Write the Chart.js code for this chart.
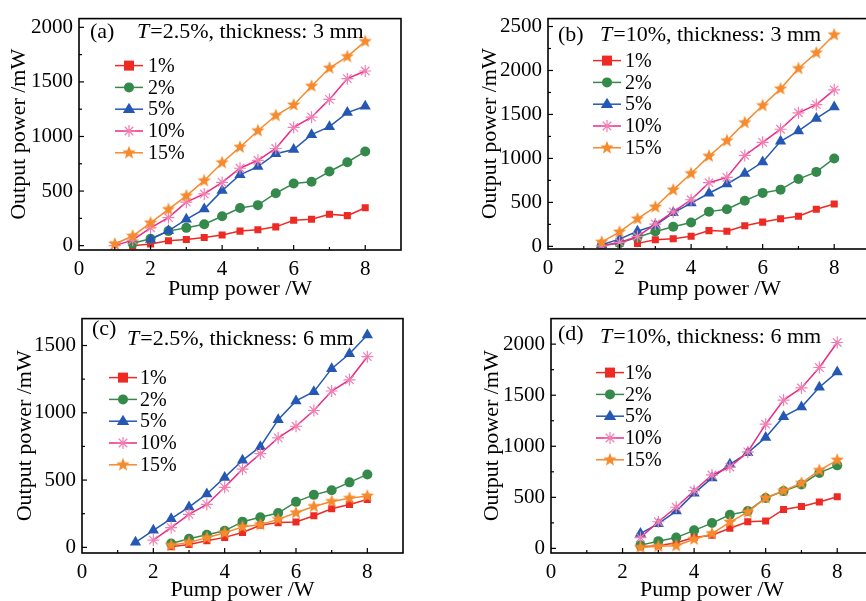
<!DOCTYPE html>
<html>
<head>
<meta charset="utf-8">
<script src="https://cdn.jsdelivr.net/npm/chart.js@4.4.0/dist/chart.umd.min.js"></script>
<style>
  html, body { margin: 0; padding: 0; background: #fff; overflow: hidden; width: 866px; height: 601px; }
  canvas { position: absolute; }
</style>
</head>
<body>
<canvas id="chA" width="410" height="300" style="left:0px;top:0px"></canvas>
<canvas id="chB" width="410" height="300" style="left:469px;top:0px"></canvas>
<canvas id="chC" width="410" height="301" style="left:3px;top:300px"></canvas>
<canvas id="chD" width="410" height="301" style="left:472px;top:300px"></canvas>
<script>
// pump power steps (W), shared by every panel
const pump = [1, 1.5, 2, 2.5, 3, 3.5, 4, 4.5, 5, 5.5, 6, 6.5, 7, 7.5, 8];
const seriesLabels = ['1%', '2%', '5%', '10%', '15%'];
const xTickVals = [0, 1, 2, 3, 4, 5, 6, 7, 8];

// (a) T=2.5%, 3 mm
const a1 = [null, 0, 15, 45, 57, 75, 97, 133, 145, 172, 232, 241, 287, 275, 347];
const a2 = [null, 21, 63, 133, 163, 196, 269, 344, 371, 480, 570, 585, 679, 764, 863];
const a5 = [null, null, 57, 136, 241, 335, 504, 649, 724, 842, 881, 1017, 1090, 1219, 1277];
const a10 = [0, 50, 163, 257, 398, 474, 579, 709, 782, 890, 1083, 1177, 1340, 1530, 1600];
const a15 = [15, 88, 208, 332, 456, 595, 760, 902, 1053, 1192, 1289, 1461, 1627, 1732, 1871];

// (b) T=10%, 3 mm
const b1 = [null, null, null, 34, 75, 86, 116, 179, 172, 235, 276, 313, 343, 422, 481];
const b2 = [null, 7, 37, 104, 168, 224, 272, 395, 422, 519, 608, 645, 765, 847, 1000];
const b5 = [null, 19, 82, 172, 239, 381, 492, 604, 709, 828, 959, 1194, 1313, 1455, 1586];
const b10 = [null, 7, 45, 112, 254, 392, 530, 724, 784, 1034, 1183, 1332, 1519, 1612, 1780];
const b15 = [null, 49, 164, 313, 448, 642, 828, 1026, 1201, 1407, 1601, 1791, 2022, 2201, 2406];

// (c) T=2.5%, 6 mm
const c1 = [null, null, null, 5, 22, 49, 74, 110, 164, 184, 189, 235, 287, 319, 355];
const c2 = [null, null, null, 29, 64, 93, 123, 191, 223, 255, 338, 390, 424, 483, 542];
const c5 = [null, 37, 127, 213, 299, 397, 520, 647, 748, 949, 1088, 1157, 1328, 1439, 1578];
const c10 = [null, null, 54, 147, 245, 319, 446, 581, 696, 814, 900, 1017, 1162, 1245, 1417];
const c15 = [null, null, null, 15, 37, 71, 108, 152, 169, 208, 257, 304, 341, 365, 382];

// (d) T=10%, 6 mm
const d1 = [null, null, null, 16, 26, 55, 106, 129, 197, 261, 268, 381, 410, 455, 506];
const d2 = [null, null, null, 32, 71, 106, 177, 248, 329, 365, 494, 561, 626, 739, 813];
const d5 = [null, null, null, 145, 242, 365, 539, 690, 823, 936, 1087, 1290, 1384, 1578, 1726];
const d10 = [null, null, null, 106, 261, 403, 565, 719, 797, 945, 1216, 1452, 1571, 1771, 2016];
const d15 = [null, null, null, 10, 20, 26, 90, 145, 258, 355, 494, 565, 639, 765, 865];

const FONT = '"Liberation Serif", "Times New Roman", serif';

function starCanvas(color, r) {
    const c = document.createElement('canvas');
    const s = Math.ceil(r * 2 + 2);
    c.width = c.height = s;
    const g = c.getContext('2d');
    g.beginPath();
    for (let i = 0; i < 10; i++) {
        const ang = -Math.PI / 2 + i * Math.PI / 5;
        const rr = i % 2 ? r * 0.42 : r;
        g.lineTo(s / 2 + rr * Math.cos(ang), s / 2 + rr * Math.sin(ang));
    }
    g.closePath();
    g.fillStyle = color;
    g.fill();
    return c;
}

const orangeStar = starCanvas('#f58b2e', 7);

// look of each series: line colour, marker colour, marker
const looks = [
    {line: '#ee2a24', mark: '#ee2a24', style: 'rect', r: 5},
    {line: '#35894b', mark: '#35894b', style: 'circle', r: 5},
    {line: '#2458b4', mark: '#2458b4', style: 'triangle', r: 6.5},
    {line: '#ec2a84', mark: '#f27fb2', style: 'star', r: 6},
    {line: '#f58b2e', mark: '#f58b2e', style: orangeStar, r: 7}
];

function toPoints(vals) {
    const out = [];
    vals.forEach((v, i) => { if (v !== null) out.push({x: pump[i], y: v}); });
    return out;
}

function drawMarker(ctx, look, x, y) {
    const r = look.r;
    ctx.save();
    ctx.fillStyle = look.mark;
    ctx.strokeStyle = look.mark;
    ctx.lineWidth = 1.2;
    if (look.style === 'rect') {
        ctx.fillRect(x - r, y - r, 2 * r, 2 * r);
    } else if (look.style === 'circle') {
        ctx.beginPath(); ctx.arc(x, y, r, 0, Math.PI * 2); ctx.fill();
    } else if (look.style === 'triangle') {
        ctx.beginPath();
        ctx.moveTo(x, y - r);
        ctx.lineTo(x + r * 0.95, y + r * 0.6);
        ctx.lineTo(x - r * 0.95, y + r * 0.6);
        ctx.closePath(); ctx.fill();
    } else if (look.style === 'star') {
        ctx.beginPath();
        for (let i = 0; i < 4; i++) {
            const ang = i * Math.PI / 4;
            ctx.moveTo(x - r * Math.cos(ang), y - r * Math.sin(ang));
            ctx.lineTo(x + r * Math.cos(ang), y + r * Math.sin(ang));
        }
        ctx.stroke();
    } else {
        ctx.drawImage(look.style, x - look.style.width / 2, y - look.style.height / 2);
    }
    ctx.restore();
}

// box, inward ticks, panel title and legend
const framePlugin = {
    id: 'frame',
    afterDatasetsDraw(chart, args, opts) {
        const {ctx, chartArea: ca} = chart;
        ctx.save();
        ctx.strokeStyle = '#000';
        ctx.lineWidth = 1.6;
        ctx.strokeRect(ca.left, ca.top, ca.right - ca.left, ca.bottom - ca.top);

        ctx.lineWidth = 1.2;
        const xs = chart.scales.x, ys = chart.scales.y;
        xs.ticks.forEach(t => {
            if (t.value <= xs.min || t.value >= xs.max) return;
            const px = xs.getPixelForValue(t.value);
            const len = t.value % 2 === 0 ? 5 : 3;
            ctx.beginPath(); ctx.moveTo(px, ca.bottom); ctx.lineTo(px, ca.bottom - len); ctx.stroke();
        });
        ys.ticks.forEach(t => {
            if (t.value <= ys.min || t.value >= ys.max) return;
            const py = ys.getPixelForValue(t.value);
            const len = t.value % 500 === 0 ? 5 : 3;
            ctx.beginPath(); ctx.moveTo(ca.left, py); ctx.lineTo(ca.left + len, py); ctx.stroke();
        });

        // panel heading
        ctx.fillStyle = '#000';
        ctx.textBaseline = 'middle';
        ctx.textAlign = 'left';
        ctx.font = '22px ' + FONT;
        ctx.fillText(opts.tag, ca.left + opts.tagAt[0], ca.top + opts.tagAt[1]);
        let tx = ca.left + opts.textAt[0];
        const ty = ca.top + opts.textAt[1];
        ctx.font = 'italic 22px ' + FONT;
        ctx.fillText('T', tx, ty);
        tx += ctx.measureText('T').width + 1;
        ctx.font = '22px ' + FONT;
        ctx.fillText(opts.text, tx, ty);

        // legend
        ctx.font = '20px ' + FONT;
        seriesLabels.forEach((lab, i) => {
            const look = looks[i];
            const ly = ca.top + opts.legAt[1] + i * 21.8;
            const lx = ca.left + opts.legAt[0];
            ctx.strokeStyle = look.line;
            ctx.lineWidth = 1.5;
            ctx.beginPath(); ctx.moveTo(lx, ly); ctx.lineTo(lx + 28, ly); ctx.stroke();
            drawMarker(ctx, look, lx + 14, ly);
            ctx.fillStyle = '#000';
            ctx.fillText(lab, lx + opts.legText, ly + 1);
        });
        ctx.restore();
    }
};

function makePanel(id, series, cfg) {
    const datasets = series.map((vals, i) => ({
        label: seriesLabels[i],
        data: toPoints(vals),
        borderColor: looks[i].line,
        backgroundColor: looks[i].mark,
        pointBorderColor: looks[i].mark,
        pointBackgroundColor: looks[i].mark,
        pointStyle: looks[i].style,
        pointRadius: looks[i].r,
        pointBorderWidth: i === 3 ? 1.2 : 0,
        borderWidth: 1.5,
        order: 5 - i
    }));
    new Chart(document.getElementById(id), {
        type: 'line',
        data: {datasets: datasets},
        plugins: [framePlugin],
        options: {
            responsive: false,
            animation: false,
            layout: {padding: {top: cfg.padTop, right: cfg.padRight, left: 0, bottom: 0}},
            plugins: {
                legend: {display: false},
                tooltip: {enabled: false},
                frame: cfg.frame
            },
            scales: {
                x: {
                    type: 'linear',
                    min: 0, max: 9,
                    grid: {display: false, drawTicks: false},
                    border: {display: false},
                    afterBuildTicks: s => { s.ticks = xTickVals.map(v => ({value: v})); },
                    ticks: {
                        autoSkip: false,
                        maxRotation: 0,
                        padding: 7,
                        color: '#000',
                        font: {family: FONT, size: 21},
                        callback: v => v % 2 === 0 ? String(v) : ''
                    },
                    title: {
                        display: true,
                        text: 'Pump power /W',
                        color: '#000',
                        font: {family: FONT, size: 22, lineHeight: 1},
                        padding: {top: 0, bottom: 0}
                    },
                    afterFit: s => { s.height = cfg.xH; }
                },
                y: {
                    min: cfg.yMin, max: cfg.yMax,
                    grid: {display: false, drawTicks: false},
                    border: {display: false},
                    afterBuildTicks: s => { s.ticks = cfg.yTicks.map(v => ({value: v})); },
                    ticks: {
                        autoSkip: false,
                        padding: 6,
                        color: '#000',
                        font: {family: FONT, size: 21},
                        callback: v => v % 500 === 0 ? String(v) : ''
                    },
                    title: {
                        display: true,
                        text: 'Output power /mW',
                        color: '#000',
                        font: {family: FONT, size: 22, lineHeight: 1},
                        padding: {top: cfg.yTitlePad, bottom: 0}
                    },
                    afterFit: s => { s.width = 79; }
                }
            }
        }
    });
}

const yTicks2000 = [0, 250, 500, 750, 1000, 1250, 1500, 1750, 2000];
const yTicks2500 = [0, 250, 500, 750, 1000, 1250, 1500, 1750, 2000, 2250, 2500];
const yTicks1500 = [0, 250, 500, 750, 1000, 1250, 1500];

makePanel('chA', [a1, a2, a5, a10, a15], {
    padTop: 14, padRight: 9, xH: 50, yMin: -40, yMax: 2080, yTitlePad: 8, yTicks: yTicks2000,
    frame: {tag: '(a)', text: '=2.5%, thickness: 3 mm', tagAt: [11, 14], textAt: [58, 14], legAt: [36, 47], legText: 33}
});
makePanel('chB', [b1, b2, b5, b10, b15], {
    padTop: 15, padRight: 9, xH: 51, yMin: -30, yMax: 2590, yTitlePad: 10, yTicks: yTicks2500,
    frame: {tag: '(b)', text: '=10%, thickness: 3 mm', tagAt: [10, 17], textAt: [52, 17], legAt: [45, 42], legText: 32}
});
makePanel('chC', [c1, c2, c5, c10, c15], {
    padTop: 16, padRight: 10, xH: 48, yMin: -42, yMax: 1700, yTitlePad: 11, yTicks: yTicks1500,
    frame: {tag: '(c)', text: '=2.5%, thickness: 6 mm', tagAt: [10, 11], textAt: [45, 21], legAt: [27, 59], legText: 31}
});
makePanel('chD', [d1, d2, d5, d10, d15], {
    padTop: 16, padRight: 9, xH: 48, yMin: -45, yMax: 2250, yTitlePad: 9, yTicks: yTicks2000,
    frame: {tag: '(d)', text: '=10%, thickness: 6 mm', tagAt: [7, 16], textAt: [49, 19], legAt: [45, 54], legText: 29}
});
</script>
</body>
</html>
